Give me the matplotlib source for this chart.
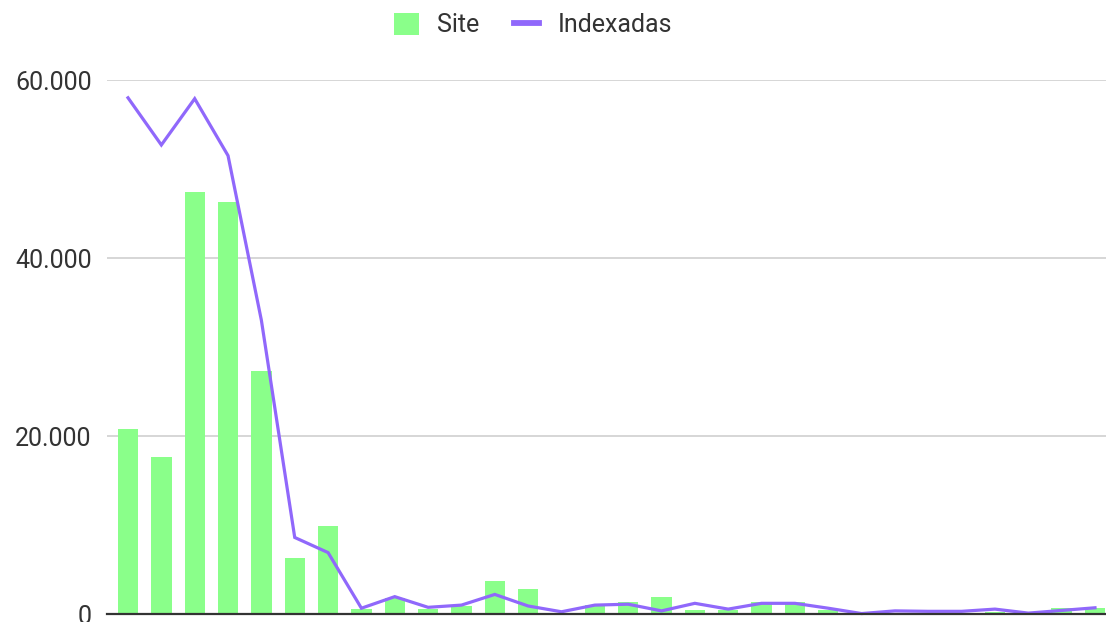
import matplotlib
matplotlib.use("Agg")
import matplotlib.pyplot as plt
import matplotlib.patches as mpatches
from matplotlib.lines import Line2D
from matplotlib.ticker import FuncFormatter
import numpy as np

# ── Colours ───────────────────────────────────────────────────────────────────
GREEN  = "#8aff8a"
PURPLE = "#9068fb"
TEXT   = "#333333"
GRID   = "#cccccc"
AXIS   = "#333333"

# ── Data ──────────────────────────────────────────────────────────────────────
SERIES_NAMES = ["Site", "Indexadas"]

site = [20800, 17600, 47400, 46300, 27300, 6300, 9900, 600, 1800, 600,
        900, 3700, 2800, 0, 1000, 1400, 1900, 450, 450, 1350,
        1350, 500, 0, 100, 100, 0, 200, 0, 700, 700]

indexadas = [58000, 52700, 57900, 51500, 33000, 8600, 6900, 650, 1950, 750,
             1000, 2200, 900, 250, 1000, 1100, 350, 1200, 550, 1200,
             1200, 650, 50, 350, 300, 300, 550, 100, 400, 700]

y_ticks = [0, 20000, 40000, 60000]

plt.rcParams.update({
    "font.family": ["Roboto", "DejaVu Sans"],
    "axes.unicode_minus": False,
})

W, H, DPI = 1106, 622, 100
fig = plt.figure(figsize=(W / DPI, H / DPI), dpi=DPI)
fig.set_facecolor("white")

# axes box in pixels: left 107, right 1106, baseline 614, 60k line at 80
ax = fig.add_axes([107 / W, 8 / H, 999 / W, 534 / H])
ax.set_facecolor("white")

x = np.arange(len(site))
ax.bar(x, site, width=0.61, color=GREEN, linewidth=0, zorder=2)
ax.plot(x, indexadas, color=PURPLE, linewidth=2.3, zorder=3,
        solid_joinstyle="miter", clip_on=False)

ax.set_xlim(-0.63, 29.33)
ax.set_ylim(0, 60000)
ax.set_yticks(y_ticks)
ax.yaxis.set_major_formatter(
    FuncFormatter(lambda v, p: f"{int(v):,}".replace(",", ".")))
ax.set_xticks([])

ax.yaxis.grid(True, color=GRID, linewidth=1.1, zorder=0)
ax.set_axisbelow(True)
for s in ["top", "right", "left"]:
    ax.spines[s].set_visible(False)
ax.spines["bottom"].set_color(AXIS)
ax.spines["bottom"].set_linewidth(1.6)
ax.spines["bottom"].set_zorder(4)
ax.tick_params(axis="y", length=0, pad=11, labelsize=18, labelcolor=TEXT)

# ── Legend ────────────────────────────────────────────────────────────────────
handles = [
    mpatches.Patch(facecolor=GREEN, linewidth=0, label=SERIES_NAMES[0]),
    Line2D([0], [0], color=PURPLE, linewidth=4.2, label=SERIES_NAMES[1]),
]
fig.legend(
    handles=handles,
    loc="center left",
    bbox_to_anchor=(394 / W, 1 - 25 / H),
    ncol=2,
    frameon=False,
    fontsize=18,
    labelcolor=TEXT,
    handlelength=1.0,
    handleheight=1.0,
    handletextpad=0.72,
    columnspacing=1.4,
    borderpad=0,
    borderaxespad=0,
)

fig.savefig("out.png", dpi=DPI, facecolor="white")
plt.close(fig)
